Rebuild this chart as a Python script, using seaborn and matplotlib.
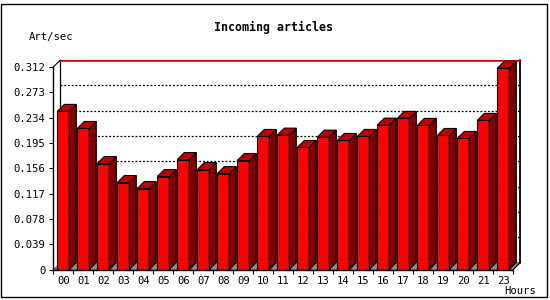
import numpy as np
import pandas as pd
import matplotlib
matplotlib.use("Agg")
import matplotlib.pyplot as plt
from matplotlib.patches import Polygon, Rectangle
from matplotlib.lines import Line2D
import seaborn as sns

# ---- data ----
hours = ["00", "01", "02", "03", "04", "05", "06", "07", "08", "09", "10", "11",
         "12", "13", "14", "15", "16", "17", "18", "19", "20", "21", "23"]
rates = [0.2436, 0.2173, 0.1633, 0.1339, 0.1247, 0.1432, 0.1694, 0.1540,
         0.1478, 0.1679, 0.2050, 0.2070, 0.1880, 0.2039, 0.1988, 0.2050,
         0.2224, 0.2328, 0.2220, 0.2065, 0.2019, 0.2297, 0.3100]
yticks = [0, 0.039, 0.078, 0.117, 0.156, 0.195, 0.234, 0.273, 0.312]
ytick_labels = ["0", "0.039", "0.078", "0.117", "0.156", "0.195", "0.234", "0.273", "0.312"]
title = "Incoming articles"
ylabel = "Art/sec"
xlabel = "Hours"

sns.set_style("white")
plt.rcParams["font.family"] = ["DejaVu Sans Mono"]

W, H = 550, 300
fig = plt.figure(figsize=(W / 100, H / 100), dpi=100)
fig.patch.set_facecolor("white")

# axes placement in pixels (front plane)
left_px, right_px = 53.3, 513.3
bottom_px, top_px = 269.5, 67.0  # from the top of the image
ax = fig.add_axes([left_px / W, (H - bottom_px) / H,
                   (right_px - left_px) / W, (bottom_px - top_px) / H])
ax.set_facecolor("none")

df = pd.DataFrame({"hour": hours, "rate": rates})
sns.barplot(data=df, x="hour", y="rate", color="#ff0000", saturation=1,
            width=0.6, edgecolor="black", linewidth=0.8, ax=ax, zorder=5)

nx = len(hours)
ax.set_xlim(-0.5, nx - 0.5)
ax.set_ylim(0, yticks[-1])

# pixel -> data offsets for the 3D depth
depth_px = 7.0
dx = depth_px * (nx) / (right_px - left_px)
dy = depth_px * yticks[-1] / (bottom_px - top_px)

x0, x1 = -0.5, nx - 0.5
ytop = yticks[-1]

# floor (gray)
ax.add_patch(Polygon([(x0, 0), (x1, 0), (x1 + dx, dy), (x0 + dx, dy)],
                     closed=True, facecolor="#8c8c8c", edgecolor="#555555",
                     linewidth=0.6, clip_on=False, zorder=1))

# back gridlines (dotted)
for t in yticks[1:-1]:
    ax.add_line(Line2D([x0 + dx, x1 + dx], [t + dy, t + dy], color="black",
                       linewidth=0.9, linestyle=(0, (1.5, 1.5)), clip_on=False, zorder=2))

# back frame
ax.add_line(Line2D([x0 + dx, x0 + dx], [dy, ytop + dy], color="black", lw=0.9,
                   clip_on=False, zorder=2))
ax.add_line(Line2D([x1 + dx, x1 + dx], [dy, ytop + dy], color="black", lw=1.3,
                   clip_on=False, zorder=2))
ax.add_line(Line2D([x0 + dx, x1 + dx], [ytop + dy, ytop + dy], color="black", lw=0.8,
                   clip_on=False, zorder=3))
ax.add_line(Line2D([x0 + dx, x1 + dx], [ytop + dy * 0.85, ytop + dy * 0.85],
                   color="#ff0000", lw=1.2, clip_on=False, zorder=3))
# connecting diagonals
ax.add_line(Line2D([x0, x0 + dx], [ytop, ytop + dy], color="black", lw=0.8,
                   clip_on=False, zorder=3))
ax.add_line(Line2D([x1, x1 + dx], [0, dy], color="black", lw=0.8,
                   clip_on=False, zorder=3))

# 3D tops and sides of each bar
for p in ax.patches:
    if not isinstance(p, Rectangle):
        continue
    bx, bw, bh = p.get_x(), p.get_width(), p.get_height()
    if bw >= 1:
        continue
    top = Polygon([(bx, bh), (bx + bw, bh), (bx + bw + dx, bh + dy), (bx + dx, bh + dy)],
                  closed=True, facecolor="#c00000", edgecolor="black", linewidth=0.8,
                  clip_on=False, zorder=5)
    side = Polygon([(bx + bw, 0), (bx + bw + dx, dy), (bx + bw + dx, bh + dy), (bx + bw, bh)],
                   closed=True, facecolor="#800000", edgecolor="black", linewidth=0.8,
                   clip_on=False, zorder=5)
    ax.add_patch(side)
    ax.add_patch(top)

# spines / ticks
sns.despine(ax=ax, top=True, right=True)
for s in ["left", "bottom"]:
    ax.spines[s].set_color("black")
    ax.spines[s].set_linewidth(1.0)
    ax.spines[s].set_zorder(6)

ax.set_yticks(yticks)
ax.set_yticklabels(ytick_labels)
ax.set_xticks(range(nx))
ax.set_xticklabels(hours)
ax.set_xticks(np.arange(-0.5, nx, 1), minor=True)
ax.tick_params(axis="y", which="major", direction="out", length=3, width=0.8,
               pad=2.5, labelsize=7.6, colors="black", left=True)
ax.tick_params(axis="x", which="major", length=0, pad=4.5, labelsize=7.6, colors="black")
ax.tick_params(axis="x", which="minor", direction="out", length=3, width=0.8,
               colors="black", bottom=True)
ax.set_xlabel("")
ax.set_ylabel("")

# texts
fig.text(274 / W, 1 - 27 / H, title, ha="center", va="center",
         fontsize=8.4, fontweight="bold", color="black")
fig.text(29 / W, 1 - 37 / H, ylabel, ha="left", va="center", fontsize=7.6, color="black")
fig.text(504 / W, 1 - 291 / H, xlabel, ha="left", va="center", fontsize=7.6, color="black")

# outer border
fig.add_artist(Rectangle((0.5 / W, 3 / H), 546.5 / W, 296.5 / H - 3 / H,
                         transform=fig.transFigure, fill=False,
                         edgecolor="black", linewidth=1.0))

fig.savefig("out.png", dpi=100, facecolor="white")
